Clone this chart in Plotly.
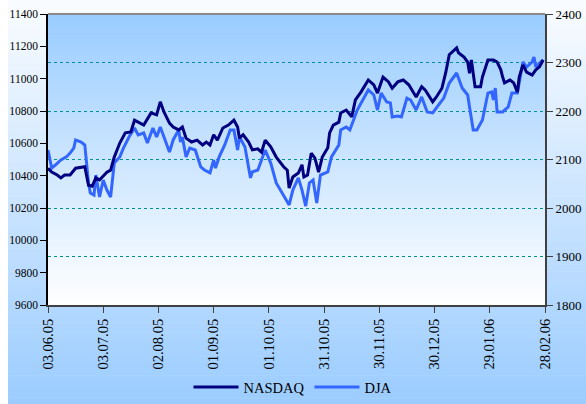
import plotly.graph_objects as go

# NASDAQ Composite (right axis)
nasdaq_dates = [
    "2005-06-03", "2005-06-05", "2005-06-08", "2005-06-10", "2005-06-12", "2005-06-15",
    "2005-06-18", "2005-06-23", "2005-06-25", "2005-06-27", "2005-06-29", "2005-07-01",
    "2005-07-02", "2005-07-05", "2005-07-07", "2005-07-09", "2005-07-12", "2005-07-15",
    "2005-07-18", "2005-07-20", "2005-07-22", "2005-07-25", "2005-07-29", "2005-08-01",
    "2005-08-03", "2005-08-05", "2005-08-08", "2005-08-10", "2005-08-13", "2005-08-15",
    "2005-08-17", "2005-08-20", "2005-08-23", "2005-08-26", "2005-08-28", "2005-08-30",
    "2005-09-01", "2005-09-03", "2005-09-06", "2005-09-09", "2005-09-12", "2005-09-14",
    "2005-09-15", "2005-09-17", "2005-09-20", "2005-09-22", "2005-09-25", "2005-09-27",
    "2005-09-29", "2005-10-02", "2005-10-05", "2005-10-09", "2005-10-11", "2005-10-12",
    "2005-10-14", "2005-10-17", "2005-10-19", "2005-10-20", "2005-10-22", "2005-10-24",
    "2005-10-26", "2005-10-28", "2005-10-30", "2005-11-02", "2005-11-03", "2005-11-05",
    "2005-11-08", "2005-11-09", "2005-11-12", "2005-11-15", "2005-11-17", "2005-11-20",
    "2005-11-24", "2005-11-27", "2005-11-29", "2005-12-02", "2005-12-05", "2005-12-07",
    "2005-12-10", "2005-12-13", "2005-12-16", "2005-12-20", "2005-12-23", "2005-12-25",
    "2005-12-29", "2005-12-31", "2006-01-03", "2006-01-05", "2006-01-07", "2006-01-11",
    "2006-01-12", "2006-01-15", "2006-01-17", "2006-01-18", "2006-01-19", "2006-01-21",
    "2006-01-24", "2006-01-25", "2006-01-28", "2006-01-31", "2006-02-02", "2006-02-04",
    "2006-02-05", "2006-02-06", "2006-02-09", "2006-02-11", "2006-02-13", "2006-02-14",
    "2006-02-16", "2006-02-18", "2006-02-21", "2006-02-23", "2006-02-25", "2006-02-27",
]
nasdaq_values = [
    2082, 2074, 2068, 2062, 2068, 2068,
    2082, 2085, 2047, 2045, 2062, 2058,
    2062, 2074, 2078, 2105, 2134, 2155,
    2157, 2181, 2177, 2171, 2196, 2192,
    2219, 2198, 2175, 2167, 2161, 2167,
    2144, 2136, 2140, 2130, 2136, 2130,
    2151, 2140, 2165, 2171, 2181, 2167,
    2144, 2151, 2136, 2120, 2122, 2115,
    2140, 2126, 2105, 2085, 2078, 2041,
    2064, 2072, 2089, 2064, 2068, 2113,
    2103, 2074, 2105, 2124, 2155, 2171,
    2177, 2196, 2202, 2188, 2223, 2239,
    2264, 2254, 2237, 2270, 2260, 2247,
    2260, 2264, 2254, 2229, 2250, 2243,
    2219, 2229, 2247, 2278, 2316, 2330,
    2320, 2311, 2301, 2278, 2305, 2250,
    2250, 2270, 2305, 2305, 2301, 2285,
    2270, 2258, 2264, 2258, 2239, 2270,
    2295, 2280, 2274, 2285, 2291, 2305,
]

# Dow Jones Industrial Average (left axis)
dja_dates = [
    "2005-06-03", "2005-06-05", "2005-06-07", "2005-06-10", "2005-06-13", "2005-06-15",
    "2005-06-17", "2005-06-18", "2005-06-21", "2005-06-23", "2005-06-25", "2005-06-26",
    "2005-06-28", "2005-06-29", "2005-07-01", "2005-07-03", "2005-07-05", "2005-07-07",
    "2005-07-09", "2005-07-12", "2005-07-14", "2005-07-17", "2005-07-20", "2005-07-22",
    "2005-07-25", "2005-07-27", "2005-07-30", "2005-08-01", "2005-08-03", "2005-08-05",
    "2005-08-08", "2005-08-10", "2005-08-11", "2005-08-13", "2005-08-14", "2005-08-15",
    "2005-08-17", "2005-08-19", "2005-08-22", "2005-08-25", "2005-08-27", "2005-08-30",
    "2005-09-01", "2005-09-02", "2005-09-04", "2005-09-07", "2005-09-10", "2005-09-12",
    "2005-09-14", "2005-09-15", "2005-09-18", "2005-09-21", "2005-09-22", "2005-09-25",
    "2005-09-29", "2005-10-02", "2005-10-05", "2005-10-09", "2005-10-12", "2005-10-14",
    "2005-10-17", "2005-10-19", "2005-10-21", "2005-10-23", "2005-10-25", "2005-10-27",
    "2005-10-29", "2005-11-02", "2005-11-04", "2005-11-08", "2005-11-09", "2005-11-12",
    "2005-11-14", "2005-11-16", "2005-11-18", "2005-11-21", "2005-11-24", "2005-11-27",
    "2005-11-29", "2005-12-01", "2005-12-04", "2005-12-06", "2005-12-07", "2005-12-10",
    "2005-12-12", "2005-12-15", "2005-12-17", "2005-12-20", "2005-12-23", "2005-12-26",
    "2005-12-29", "2005-12-31", "2006-01-04", "2006-01-07", "2006-01-11", "2006-01-14",
    "2006-01-17", "2006-01-18", "2006-01-20", "2006-01-22", "2006-01-25", "2006-01-28",
    "2006-01-30", "2006-01-31", "2006-02-01", "2006-02-02", "2006-02-05", "2006-02-08",
    "2006-02-10", "2006-02-13", "2006-02-16", "2006-02-18", "2006-02-21", "2006-02-22",
    "2006-02-23", "2006-02-25", "2006-02-27",
]
dja_values = [
    10559, 10447, 10466, 10497, 10516, 10540,
    10571, 10621, 10608, 10590, 10355, 10293,
    10280, 10404, 10268, 10373, 10311, 10268,
    10478, 10516, 10571, 10639, 10695, 10652,
    10664, 10602, 10695, 10639, 10701, 10639,
    10546, 10621, 10639, 10683, 10608, 10639,
    10516, 10571, 10559, 10454, 10435, 10417,
    10497, 10447, 10516, 10590, 10683, 10683,
    10559, 10639, 10577, 10386, 10423, 10435,
    10559, 10478, 10355, 10280, 10219, 10311,
    10386, 10311, 10212, 10355, 10373, 10231,
    10404, 10423, 10516, 10590, 10683, 10701,
    10683, 10744, 10806, 10868, 10930, 10899,
    10806, 10911, 10856, 10850, 10763, 10769,
    10763, 10880, 10868, 10806, 10887, 10794,
    10788, 10819, 10880, 10973, 11035, 10942,
    10899, 10825, 10683, 10683, 10744, 10911,
    10918, 10868, 10942, 10794, 10794, 10825,
    10911, 10911, 11103, 11072, 11103, 11134,
    11072, 11097, 11116,
]

x_start, x_end = "2005-06-03", "2006-02-28"
DAY_MS = 86400000

fig = go.Figure()

fig.add_trace(go.Scatter(
    x=dja_dates, y=dja_values, name="DJA", mode="lines",
    line=dict(color="#3366FF", width=3), yaxis="y",
))
fig.add_trace(go.Scatter(
    x=nasdaq_dates, y=nasdaq_values, name="NASDAQ", mode="lines",
    line=dict(color="#000080", width=3), yaxis="y2",
))

# Vertical gradient fills (outer chart area and plot area) built from thin bands
W, H = 586, 404
L, R, T, B = 48, 41, 14, 99
pw, ph = W - L - R, H - T - B


def px_to_paper_x(px):
    return (px - L) / pw


def px_to_paper_y(py):
    return (H - B - py) / ph


def blend(c0, c1, t):
    return "rgb(%d,%d,%d)" % tuple(round(a + (b - a) * t) for a, b in zip(c0, c1))


shapes = []
n = 70
outer_top, outer_bot = (250, 252, 255), (155, 204, 255)
for i in range(n):
    y0 = H * i / n
    y1 = H * (i + 1) / n + 0.6
    shapes.append(dict(
        type="rect", xref="paper", yref="paper", layer="below",
        x0=px_to_paper_x(8), x1=px_to_paper_x(W),
        y0=px_to_paper_y(y1), y1=px_to_paper_y(y0),
        fillcolor=blend(outer_top, outer_bot, (i + 0.5) / n), line=dict(width=0),
    ))

plot_top, plot_bot = (153, 204, 255), (255, 255, 255)
for i in range(n):
    shapes.append(dict(
        type="rect", xref="paper", yref="paper", layer="below",
        x0=0, x1=1,
        y0=1 - (i + 1) / n - 0.003, y1=1 - i / n,
        fillcolor=blend(plot_top, plot_bot, (i + 0.5) / n), line=dict(width=0),
    ))

# Top border of the plot area
shapes.append(dict(
    type="line", xref="paper", yref="paper", layer="above",
    x0=0, x1=1, y0=1, y1=1, line=dict(color="#8a8a8a", width=2),
))

fig.update_layout(
    width=W, height=H,
    margin=dict(l=L, r=R, t=T, b=B, autoexpand=False),
    paper_bgcolor="white",
    plot_bgcolor="rgba(0,0,0,0)",
    font=dict(family="Liberation Serif", color="black"),
    shapes=shapes,
    showlegend=True,
    legend=dict(
        orientation="h", x=px_to_paper_x(293), xanchor="center",
        y=px_to_paper_y(387), yanchor="middle",
        bgcolor="rgba(0,0,0,0)", font=dict(size=14.5),
        traceorder="reversed", itemwidth=45,
    ),
    xaxis=dict(
        type="date", range=[x_start, x_end],
        tick0=x_start, dtick=30 * DAY_MS, tickformat="%d.%m.%y",
        tickangle=-90, ticks="outside", ticklen=6, tickwidth=1, tickcolor="#404040",
        showline=True, linecolor="#404040", linewidth=2,
        showgrid=False, zeroline=False,
        tickfont=dict(size=14.5),
    ),
    yaxis=dict(
        range=[9600, 11400], dtick=200, tickformat="d",
        ticks="outside", ticklen=6, tickwidth=1,
        tickcolor="black", showline=True, linecolor="black", linewidth=1.5,
        showgrid=False, zeroline=False, tickfont=dict(size=11.5),
    ),
    yaxis2=dict(
        range=[1800, 2400], dtick=100, tickformat="d", overlaying="y", side="right",
        ticks="outside", ticklen=6, tickwidth=1, tickcolor="#404040",
        showline=True, linecolor="#404040", linewidth=2,
        showgrid=True, gridcolor="#009090", griddash="dot", gridwidth=1,
        zeroline=False, tickfont=dict(size=13),
    ),
)

fig.write_html("out.html")
